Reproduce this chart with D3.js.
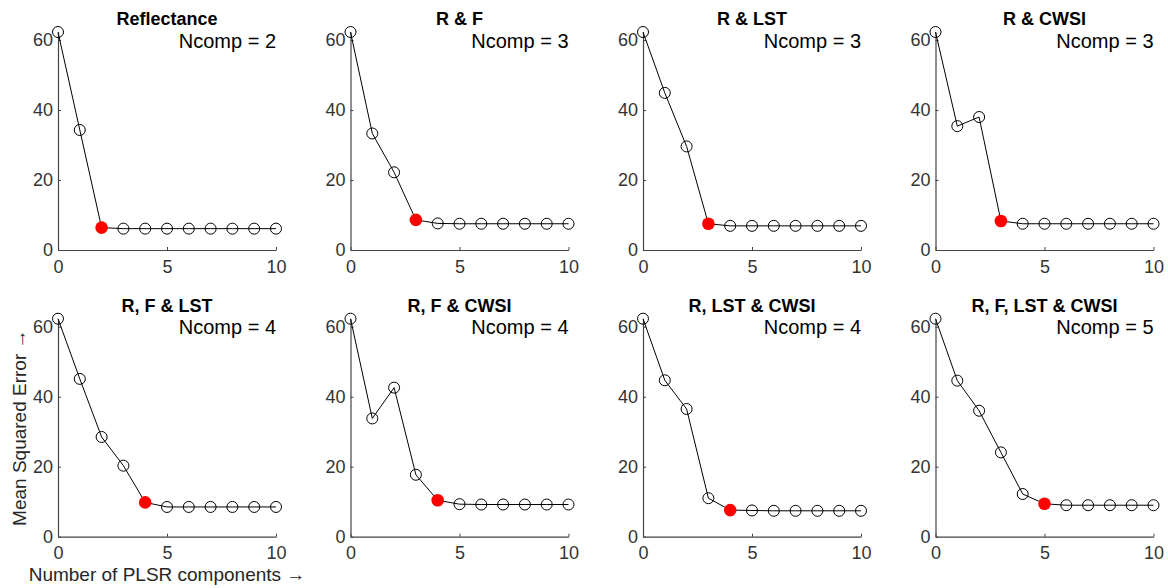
<!DOCTYPE html>
<html>
<head>
<meta charset="utf-8">
<script src="https://cdn.jsdelivr.net/npm/d3@7"></script>
<style>
  body { margin: 0; background: #fff; }
  svg { display: block; font-family: "Liberation Sans", Arial, sans-serif; }
</style>
</head>
<body>
<svg id="chart" width="1168" height="588"></svg>
<script>
const titles = ["Reflectance", "R & F", "R & LST", "R & CWSI",
                "R, F & LST", "R, F & CWSI", "R, LST & CWSI", "R, F, LST & CWSI"];
const ncomp = [2, 3, 3, 3, 4, 4, 4, 5];
const components = [0, 1, 2, 3, 4, 5, 6, 7, 8, 9, 10];
const mseReflectance = [62.3, 34.3, 6.4, 6.1, 6.1, 6.1, 6.1, 6.1, 6.1, 6.1, 6.1];
const mseRF          = [62.3, 33.3, 22.2, 8.6, 7.6, 7.5, 7.5, 7.5, 7.5, 7.5, 7.5];
const mseRLST        = [62.3, 44.9, 29.6, 7.5, 6.9, 6.9, 6.9, 6.9, 6.9, 6.9, 6.9];
const mseRCWSI       = [62.3, 35.4, 38.0, 8.3, 7.5, 7.5, 7.5, 7.5, 7.5, 7.5, 7.5];
const mseRFLST       = [62.3, 45.1, 28.5, 20.3, 9.8, 8.5, 8.5, 8.5, 8.5, 8.5, 8.5];
const mseRFCWSI      = [62.3, 33.8, 42.6, 17.7, 10.4, 9.3, 9.2, 9.2, 9.2, 9.2, 9.2];
const mseRLSTCWSI    = [62.3, 44.7, 36.5, 11.0, 7.6, 7.5, 7.4, 7.4, 7.4, 7.4, 7.4];
const mseRFLSTCWSI   = [62.3, 44.6, 36.0, 24.1, 12.2, 9.4, 9.0, 9.0, 9.0, 9.0, 9.0];
const series = [mseReflectance, mseRF, mseRLST, mseRCWSI, mseRFLST, mseRFCWSI, mseRLSTCWSI, mseRFLSTCWSI];
const xTicks = [0, 5, 10];
const yTicks = [0, 20, 40, 60];
const yLabel = "Mean Squared Error \u2192";
const xLabel = "Number of PLSR components \u2192";

const svg = d3.select("#chart");
const axW = 218, axH = 218;
const colLeft = [58, 350.5, 643, 935.5];
const rowBottom = [250, 536.7];
const axisColor = "#444";

series.forEach((vals, i) => {
  const r = Math.floor(i / 4), c = i % 4;
  const left = colLeft[c], bottom = rowBottom[r], top = bottom - axH;
  const g = svg.append("g").attr("transform", `translate(${left},${top})`);
  const x = d3.scaleLinear().domain([0, 10]).range([0, axW]);
  const y = d3.scaleLinear().domain([0, d3.max(vals)]).range([axH, 0]);

  const xa = g.append("g").attr("transform", `translate(0,${axH})`)
    .call(d3.axisBottom(x).tickValues(xTicks).tickSizeInner(-3).tickSizeOuter(0).tickPadding(10));
  const ya = g.append("g")
    .call(d3.axisLeft(y).tickValues(yTicks).tickSizeInner(-3).tickSizeOuter(0).tickPadding(5));
  [xa, ya].forEach(a => {
    a.select(".domain").attr("stroke", axisColor).attr("stroke-width", 1.2);
    a.selectAll(".tick line").attr("stroke", axisColor);
    a.selectAll(".tick text").attr("fill", "#333").style("font-size", "18px").attr("font-family", null);
    a.attr("font-family", null).attr("font-size", null);
  });

  const line = d3.line().x((d, k) => x(components[k])).y(d => y(d));
  g.append("path").datum(vals).attr("d", line)
    .attr("fill", "none").attr("stroke", "#000").attr("stroke-width", 1);

  g.selectAll("circle.pt").data(vals.map((v, k) => ({k: components[k], v})).filter(d => d.k !== ncomp[i]))
    .join("circle").attr("class", "pt")
    .attr("cx", d => x(d.k)).attr("cy", d => y(d.v)).attr("r", 5.5)
    .attr("fill", "none").attr("stroke", "#000").attr("stroke-width", 1);

  g.append("circle")
    .attr("cx", x(components[ncomp[i]])).attr("cy", y(vals[ncomp[i]])).attr("r", 6.3)
    .attr("fill", "#ff0000");

  g.append("text").attr("x", axW / 2).attr("y", -7).attr("text-anchor", "middle")
    .style("font-size", "18px").style("font-weight", "bold").attr("fill", "#000")
    .text(titles[i]);
  g.append("text").attr("x", axW).attr("y", 15.5).attr("text-anchor", "end")
    .style("font-size", "20px").attr("fill", "#000")
    .text("Ncomp = " + ncomp[i]);

  if (i === 4) {
    g.append("text")
      .attr("transform", `translate(-32,${axH / 2}) rotate(-90)`)
      .attr("text-anchor", "middle").style("font-size", "19px").attr("fill", "#262626")
      .text(yLabel);
    g.append("text").attr("x", axW / 2).attr("y", axH + 44.5)
      .attr("text-anchor", "middle").style("font-size", "19px").attr("fill", "#262626")
      .text(xLabel);
  }
});
</script>
</body>
</html>
